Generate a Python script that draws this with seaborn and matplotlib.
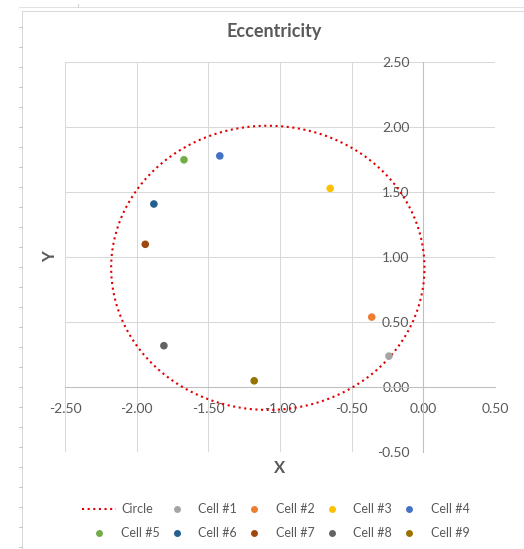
import numpy as np
import pandas as pd
import matplotlib
matplotlib.use("Agg")
import matplotlib.pyplot as plt
from matplotlib.lines import Line2D
import seaborn as sns

# Cell positions
cells = ["Cell #1", "Cell #2", "Cell #3", "Cell #4", "Cell #5",
         "Cell #6", "Cell #7", "Cell #8", "Cell #9"]
cell_x = [-0.24, -0.36, -0.65, -1.42, -1.67, -1.88, -1.94, -1.81, -1.18]
cell_y = [0.24, 0.54, 1.53, 1.78, 1.75, 1.41, 1.10, 0.32, 0.05]
cell_colors = ["#A5A5A5", "#ED7D31", "#FFC000", "#4472C4", "#70AD47",
               "#255E91", "#9E480E", "#636363", "#997300"]

# Reference circle
circle_label = "Circle"
circle_center_x = -1.085
circle_center_y = 0.919
circle_radius = 1.093
circle_color = "#E00000"

x_ticks = [-2.5, -2.0, -1.5, -1.0, -0.5, 0.0, 0.5]
y_ticks = [-0.5, 0.0, 0.5, 1.0, 1.5, 2.0, 2.5]

TEXT = "#595959"
GRID = "#D9D9D9"
AXIS = "#BFBFBF"

sns.set_theme(style="white")
plt.rcParams["font.family"] = ["Lato", "DejaVu Sans"]

W, H = 524, 549
fig = plt.figure(figsize=(W / 100, H / 100), dpi=100)
fig.patch.set_facecolor("white")


def fx(px):
    return px / W


def fy(py):
    return 1 - py / H


ax = fig.add_axes([fx(65), fy(452.3), 430 / W, 390 / H])
ax.set_facecolor("white")

theta = np.linspace(0, 2 * np.pi, 721)
circle = pd.DataFrame({
    "x": circle_center_x + circle_radius * np.cos(theta),
    "y": circle_center_y + circle_radius * np.sin(theta),
})
sns.lineplot(data=circle, x="x", y="y", sort=False, estimator=None,
             color=circle_color, linewidth=1.5, ax=ax, zorder=3)
circle_line = ax.lines[-1]
circle_line.set_linestyle((0, (1, 1.7)))

points = pd.DataFrame({"cell": cells, "x": cell_x, "y": cell_y})
sns.scatterplot(data=points, x="x", y="y", hue="cell", palette=cell_colors,
                s=30, edgecolor="none", legend=False, ax=ax, zorder=4)

ax.set_xlim(-2.5, 0.5)
ax.set_ylim(-0.5, 2.5)
ax.set_xticks(x_ticks)
ax.set_yticks(y_ticks)
ax.set_xticklabels([f"{v:.2f}" for v in x_ticks])
ax.set_yticklabels([f"{v:.2f}" for v in y_ticks])
ax.set_xlabel("")
ax.set_ylabel("")

ax.grid(True, color=GRID, linewidth=0.75)
ax.set_axisbelow(True)
for gl in ax.get_xgridlines() + ax.get_ygridlines():
    gl.set_clip_on(False)

for side in ("top", "right"):
    ax.spines[side].set_visible(False)
ax.spines["left"].set_position(("data", 0))
ax.spines["bottom"].set_position(("data", 0))
for side in ("left", "bottom"):
    ax.spines[side].set_color(AXIS)
    ax.spines[side].set_linewidth(0.75)
    ax.spines[side].set_zorder(2)

ax.tick_params(axis="both", length=0, labelsize=10, labelcolor=TEXT)
ax.tick_params(axis="y", pad=10)
ax.tick_params(axis="x", pad=11)

fig.text(fx(274), fy(32), "Eccentricity", ha="center", va="center",
         fontsize=13, fontweight="bold", color=TEXT)
fig.text(fx(280), fy(468), "X", ha="center", va="center",
         fontsize=12, fontweight="bold", color=TEXT)
fig.text(fx(50), fy(257), "Y", ha="center", va="center", rotation=90,
         fontsize=12, fontweight="bold", color=TEXT)

# Legend laid out row by row (matplotlib fills columns first)
entries = [(Line2D([], [], color=circle_color, linewidth=1.5,
                   linestyle=(0, (1, 1.7))), circle_label)]
for name, col in zip(cells, cell_colors):
    entries.append((Line2D([], [], linestyle="none", marker="o", markersize=5,
                           markerfacecolor=col, markeredgecolor="none"), name))
ncol = 5
order = [r * ncol + c for c in range(ncol) for r in range(2)]
handles = [entries[i][0] for i in order]
labels = [entries[i][1] for i in order]
fig.legend(handles, labels, ncol=ncol, loc="center",
           bbox_to_anchor=(fx(276), fy(521)), frameon=False, fontsize=9,
           handlelength=2.7, handletextpad=0.4, columnspacing=0.0,
           labelspacing=0.95, labelcolor=TEXT, borderpad=0)

# Sheet frame around the chart object
frame = dict(transform=fig.transFigure, linewidth=0.75)
fig.add_artist(Line2D([fx(22), fx(22)], [fy(10.5), fy(549)], color=GRID, **frame))
fig.add_artist(Line2D([fx(22), fx(524)], [fy(10.5), fy(10.5)], color=GRID, **frame))
fig.add_artist(Line2D([fx(19), fx(524)], [fy(7), fy(7)], color="#E2E2E2", **frame))
fig.add_artist(Line2D([fx(78), fx(78)], [fy(4), fy(7)], color="#D0D0D0", **frame))
for row_y in np.arange(27.3, 549, 20.0):
    fig.add_artist(Line2D([fx(19), fx(22)], [fy(row_y), fy(row_y)],
                          color="#C8C8C8", **frame))

fig.savefig("out.png", dpi=100, facecolor="white")
